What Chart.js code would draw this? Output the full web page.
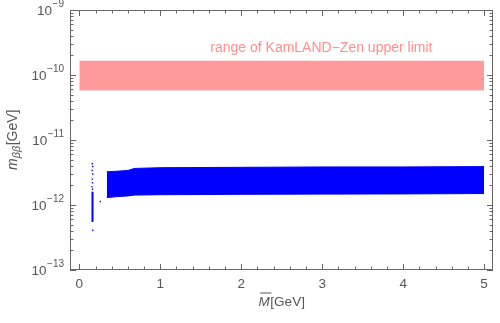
<!DOCTYPE html>
<html>
<head>
<meta charset="utf-8">
<script src="https://cdn.jsdelivr.net/npm/chart.js@4.4.1/dist/chart.umd.min.js"></script>
<style>
  html, body { margin: 0; background: #fff; }
  #wrap { width: 500px; height: 323px; }
</style>
</head>
<body>
<div id="wrap"><canvas id="c" width="500" height="323"></canvas></div>
<script>
// ---- data ----
var xTicks = [0, 1, 2, 3, 4, 5];
var yExps = [-9, -10, -11, -12, -13];

// KamLAND-Zen band (GeV)
var bandX = [0, 5];
var bandLow = [5.9e-11, 5.9e-11];
var bandHigh = [1.65e-10, 1.65e-10];
var bandLabel = 'range of KamLAND\u2212Zen upper limit';

// main blue region: upper / lower edge
var mainX = [0.34, 0.45, 0.6, 0.68, 1, 2, 3, 4, 5];
var mainHigh = [3.25e-12, 3.3e-12, 3.4e-12, 3.65e-12, 3.75e-12, 3.8e-12, 3.85e-12, 3.85e-12, 3.9e-12];
var mainLow = [1.3e-12, 1.34e-12, 1.38e-12, 1.42e-12, 1.44e-12, 1.46e-12, 1.47e-12, 1.48e-12, 1.5e-12];

// thin strip near M ~ 0.16
var stripX = [0.163, 0.163];
var stripY = [5.5e-13, 1.6e-12];
var dotsX = [0.16, 0.166, 0.158, 0.166, 0.16, 0.163, 0.157, 0.164, 0.165, 0.26];
var dotsY = [4.3e-12, 3.9e-12, 3.4e-12, 3.0e-12, 2.5e-12, 2.2e-12, 1.9e-12, 1.75e-12, 4.1e-13, 1.13e-12];

var BLUE = '#0000ff';
var PINK = '#ff9a9a';
var AX = '#666666';
var TXT = '#555555';
var FONT = '"Liberation Sans", Arial, sans-serif';

function pts(xs, ys) { return xs.map(function (x, i) { return { x: x, y: ys[i] }; }); }

/* ---- frame, ticks, labels (Mathematica-style) ---- */
var framePlugin = {
  id: 'frame',
  afterDraw: function (chart) {
    var ctx = chart.ctx, a = chart.chartArea;
    var sx = chart.scales.x, sy = chart.scales.y;
    ctx.save();
    ctx.strokeStyle = AX;
    ctx.lineWidth = 1;
    ctx.strokeRect(a.left + 0.5, a.top + 0.5, a.right - a.left - 1, a.bottom - a.top - 1);

    function line(x1, y1, x2, y2) {
      ctx.beginPath(); ctx.moveTo(x1, y1); ctx.lineTo(x2, y2); ctx.stroke();
    }
    // x ticks
    for (var v = 0; v <= 5.0001; v += 0.2) {
      var px = Math.round(sx.getPixelForValue(v)) + 0.5;
      var major = Math.abs(v - Math.round(v)) < 1e-6;
      var len = major ? 6 : 3.5;
      line(px, a.bottom, px, a.bottom - len);
      line(px, a.top, px, a.top + len);
    }
    // y ticks
    for (var e = -13; e <= -9; e++) {
      for (var m = 1; m <= 9; m++) {
        if (e === -9 && m > 1) break;
        var py = Math.round(sy.getPixelForValue(m * Math.pow(10, e))) + 0.5;
        var l2 = m === 1 ? 6 : 3.5;
        line(a.left, py, a.left + l2, py);
        line(a.right, py, a.right - l2, py);
      }
    }
    // x tick labels
    ctx.fillStyle = TXT;
    ctx.font = '13.5px ' + FONT;
    ctx.textAlign = 'center';
    ctx.textBaseline = 'middle';
    xTicks.forEach(function (t) {
      ctx.fillText(String(t), sx.getPixelForValue(t), a.bottom + 14);
    });
    // y tick labels 10^e
    yExps.forEach(function (e) {
      var py = sy.getPixelForValue(Math.pow(10, e));
      var sup = '\u2212' + String(-e);
      ctx.font = '10px ' + FONT;
      var ws = ctx.measureText(sup).width;
      ctx.textAlign = 'left';
      ctx.textBaseline = 'middle';
      var xr = a.left - 6;
      ctx.fillText(sup, xr - ws, py - 6);
      ctx.font = '13.5px ' + FONT;
      ctx.textAlign = 'right';
      ctx.fillText('10', xr - ws - 0.5, py + 1);
    });

    // band label
    ctx.fillStyle = '#ff8f8f';
    ctx.font = '14px ' + FONT;
    ctx.textAlign = 'center';
    ctx.textBaseline = 'middle';
    ctx.fillText(bandLabel, sx.getPixelForValue(2.99), sy.getPixelForValue(2.6e-10));

    // x title: M-bar [GeV]
    ctx.fillStyle = TXT;
    ctx.textBaseline = 'alphabetic';
    ctx.textAlign = 'left';
    ctx.font = 'italic 13.5px ' + FONT;
    var wM = ctx.measureText('M').width;
    ctx.font = '13.5px ' + FONT;
    var wG = ctx.measureText('[GeV]').width;
    var cx = (a.left + a.right) / 2;
    var x0 = cx - (wM + wG) / 2;
    var by = 306;
    ctx.font = 'italic 13.5px ' + FONT;
    ctx.fillText('M', x0, by);
    ctx.strokeStyle = TXT;
    line(x0 + 1.5, by - 13, x0 + wM + 1.5, by - 13);
    ctx.font = '13.5px ' + FONT;
    ctx.fillText('[GeV]', x0 + wM + 0.5, by);

    // y title: m_{beta beta} [GeV]
    ctx.save();
    ctx.translate(17, (a.top + a.bottom) / 2);
    ctx.rotate(-Math.PI / 2);
    ctx.font = 'italic 14px ' + FONT;
    var wm = ctx.measureText('m').width;
    ctx.font = 'italic 11px ' + FONT;
    var wb = ctx.measureText('\u03b2\u03b2').width;
    ctx.font = '14px ' + FONT;
    var wg = ctx.measureText('[GeV]').width;
    var sx0 = -(wm + wb + wg) / 2;
    ctx.textAlign = 'left';
    ctx.textBaseline = 'alphabetic';
    ctx.font = 'italic 14px ' + FONT;
    ctx.fillText('m', sx0, 0);
    ctx.font = 'italic 11px ' + FONT;
    ctx.fillText('\u03b2\u03b2', sx0 + wm, 3);
    ctx.font = '14px ' + FONT;
    ctx.fillText('[GeV]', sx0 + wm + wb + 0.5, 0);
    ctx.restore();

    ctx.restore();
  }
};

new Chart(document.getElementById('c').getContext('2d'), {
  type: 'scatter',
  data: {
    datasets: [
      { data: pts(bandX, bandLow), showLine: true, borderColor: '#ffc4c4', borderWidth: 1.5,
        pointRadius: 0, fill: false, order: 3 },
      { data: pts(bandX, bandHigh), showLine: true, borderColor: PINK, borderWidth: 0,
        backgroundColor: PINK, pointRadius: 0, fill: '-1', order: 2 },
      { data: pts(mainX, mainLow), showLine: true, borderColor: BLUE, borderWidth: 1,
        pointRadius: 0, fill: false, tension: 0 },
      { data: pts(mainX, mainHigh), showLine: true, borderColor: BLUE, borderWidth: 1,
        backgroundColor: BLUE, pointRadius: 0, fill: '-1', tension: 0 },
      { data: pts(stripX, stripY), showLine: true, borderColor: BLUE, borderWidth: 2,
        pointRadius: 0, fill: false },
      { data: pts(dotsX, dotsY), showLine: false, backgroundColor: BLUE, borderWidth: 0,
        pointRadius: 1, pointStyle: 'rect' }
    ]
  },
  options: {
    responsive: false,
    animation: false,
    events: [],
    layout: { padding: { left: 70, top: 10, right: 7, bottom: 53 } },
    plugins: { legend: { display: false }, tooltip: { enabled: false } },
    scales: {
      x: { type: 'linear', min: -0.115, max: 5.11, display: false },
      y: { type: 'logarithmic', min: 1e-13, max: 1e-9, display: false }
    }
  },
  plugins: [framePlugin]
});
</script>
</body>
</html>
